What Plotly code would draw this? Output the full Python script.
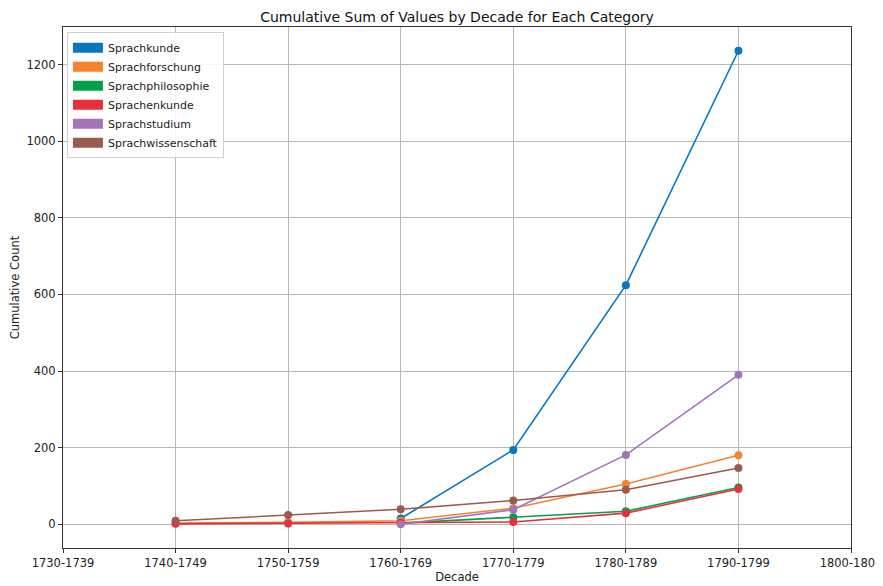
import plotly.graph_objects as go

decade_labels = ["1730-1739", "1740-1749", "1750-1759", "1760-1769",
                 "1770-1779", "1780-1789", "1790-1799", "1800-1809"]

categories = ["Sprachkunde", "Sprachforschung", "Sprachphilosophie",
              "Sprachenkunde", "Sprachstudium", "Sprachwissenschaft"]

# decades for each series, cumulative values
sprachkunde_decades = ["1760-1769", "1770-1779", "1780-1789", "1790-1799"]
sprachkunde_values = [15, 194, 624, 1236]

sprachforschung_decades = ["1740-1749", "1750-1759", "1760-1769", "1770-1779", "1780-1789", "1790-1799"]
sprachforschung_values = [3, 5, 9, 42, 105, 180]

sprachphilosophie_decades = ["1760-1769", "1770-1779", "1780-1789", "1790-1799"]
sprachphilosophie_values = [3, 18, 34, 96]

sprachenkunde_decades = ["1740-1749", "1750-1759", "1760-1769", "1770-1779", "1780-1789", "1790-1799"]
sprachenkunde_values = [1, 2, 4, 6, 29, 92]

sprachstudium_decades = ["1760-1769", "1770-1779", "1780-1789", "1790-1799"]
sprachstudium_values = [0, 38, 181, 390]

sprachwissenschaft_decades = ["1740-1749", "1750-1759", "1760-1769", "1770-1779", "1780-1789", "1790-1799"]
sprachwissenschaft_values = [9, 24, 39, 62, 90, 147]

colors = ["#0a76bd", "#f4832f", "#03a04a", "#e8303a", "#a274b8", "#9b5a4f"]

series = [
    (sprachkunde_decades, sprachkunde_values),
    (sprachforschung_decades, sprachforschung_values),
    (sprachphilosophie_decades, sprachphilosophie_values),
    (sprachenkunde_decades, sprachenkunde_values),
    (sprachstudium_decades, sprachstudium_values),
    (sprachwissenschaft_decades, sprachwissenschaft_values),
]

y_ticks = [0, 200, 400, 600, 800, 1000, 1200]

fig = go.Figure()
for name, (decs, vals), col in zip(categories, series, colors):
    xs = [decade_labels.index(d) for d in decs]
    fig.add_trace(go.Scatter(
        x=xs, y=vals, mode="lines+markers", name=name,
        line=dict(color=col, width=1.6),
        marker=dict(color=col, size=8),
        showlegend=False, legendgroup=name,
    ))
# legend entries as filled patches
for name, col in zip(categories, colors):
    fig.add_trace(go.Scatter(x=[None], y=[None], mode="lines", name=name,
                             line=dict(color=col, width=10),
                             legendgroup=name, showlegend=True))

font = "DejaVu Sans, sans-serif"
# the page places the figure 8px from the top-left corner; margins compensate
fig.update_layout(
    width=883, height=586,
    margin=dict(l=55, r=40, t=19, b=46, autoexpand=False),
    plot_bgcolor="white", paper_bgcolor="white",
    font=dict(family=font, size=11.5, color="#222"),
    title=dict(text="Cumulative Sum of Values by Decade for Each Category",
               x=(55 + 394) / 883, xanchor="center", y=0.993, yanchor="top",
               font=dict(size=14, family=font, color="#111"), automargin=False),
    legend=dict(x=0.005, y=0.99, xanchor="left", yanchor="top",
                bgcolor="rgba(255,255,255,0.85)", bordercolor="#d0d0d0", borderwidth=1,
                font=dict(size=11, family=font), tracegroupgap=0, itemwidth=30),
    showlegend=True,
)
fig.update_xaxes(
    range=[0, 7], tickmode="array", automargin=False,
    tickvals=list(range(len(decade_labels))), ticktext=decade_labels,
    showgrid=True, gridcolor="#b8b8b8", gridwidth=0.8,
    showline=True, linecolor="#333", linewidth=1, mirror=True,
    ticks="outside", ticklen=4, tickcolor="#333", zeroline=False,
    title=dict(text="Decade", font=dict(size=11.5, family=font), standoff=4),
    tickfont=dict(size=11.5, family=font),
)
fig.update_yaxes(
    range=[-62, 1298], tickmode="array", tickvals=y_ticks, automargin=False,
    showgrid=True, gridcolor="#b8b8b8", gridwidth=0.8,
    showline=True, linecolor="#333", linewidth=1, mirror=True,
    ticks="outside", ticklen=4, tickcolor="#333", zeroline=False,
    title=dict(text="Cumulative Count", font=dict(size=11.5, family=font), standoff=6),
    tickfont=dict(size=11.5, family=font),
)
fig.write_html("out.html")
